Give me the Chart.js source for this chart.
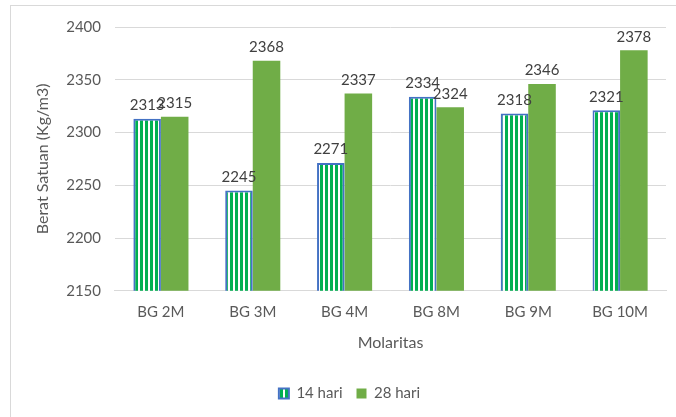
<!DOCTYPE html>
<html>
<head>
<meta charset="utf-8">
<script src="https://cdn.jsdelivr.net/npm/chart.js@4.4.1/dist/chart.umd.min.js"></script>
<style>
  html, body { margin: 0; padding: 0; background: #fff; overflow: hidden; }
  #wrap { position: relative; width: 676px; height: 417px; }
  #frame { position: absolute; left: 10px; top: 5px; width: 700px; height: 500px;
           border-left: 1px solid #d9d9d9; border-top: 1px solid #d9d9d9; }
  canvas { position: absolute; left: 0; top: 0; }
</style>
</head>
<body>
<div id="wrap">
  <div id="frame"></div>
  <canvas id="chart" width="676" height="417"></canvas>
</div>
<script>
// data
const categories = ['BG 2M', 'BG 3M', 'BG 4M', 'BG 8M', 'BG 9M', 'BG 10M'];
const hari14 = [2313, 2245, 2271, 2334, 2318, 2321];
const hari28 = [2315, 2368, 2337, 2324, 2346, 2378];
const seriesNames = ['14 hari', '28 hari'];
const yTicks = [2150, 2200, 2250, 2300, 2350, 2400];

const FONT = 'Lato, "Open Sans", sans-serif';

// striped fill for the 14 hari bars
function stripes() {
    const c = document.createElement('canvas');
    c.width = 5; c.height = 1;
    const g = c.getContext('2d');
    g.fillStyle = '#ffffff';
    g.fillRect(0, 0, 5, 1);
    g.fillStyle = '#00b050';
    g.fillRect(0, 0, 3, 1);
    return g.createPattern(c, 'repeat');
}

// values above each bar
const barLabels = {
    id: 'barLabels',
    afterDatasetsDraw(chart) {
        const ctx = chart.ctx;
        ctx.save();
        ctx.font = '15px ' + FONT;
        ctx.fillStyle = '#404040';
        ctx.textAlign = 'center';
        ctx.textBaseline = 'bottom';
        chart.data.datasets.forEach((ds, i) => {
            chart.getDatasetMeta(i).data.forEach((bar, j) => {
                ctx.fillText(ds.data[j], bar.x, bar.y - 6);
            });
        });
        ctx.restore();
    }
};

const ctx = document.getElementById('chart').getContext('2d');
new Chart(ctx, {
    type: 'bar',
    data: {
        labels: categories,
        datasets: [
            {
                label: seriesNames[0],
                data: hari14,
                backgroundColor: stripes(),
                borderColor: '#4472c4',
                borderWidth: 2
            },
            {
                label: seriesNames[1],
                data: hari28,
                backgroundColor: '#70ad47',
                borderWidth: 0
            }
        ]
    },
    options: {
        responsive: false,
        animation: false,
        categoryPercentage: 0.6,
        barPercentage: 1.0,
        layout: { padding: { left: 33, right: 10, top: 27, bottom: 6 } },
        plugins: {
            legend: {
                position: 'bottom',
                labels: {
                    boxWidth: 10, boxHeight: 10,
                    color: '#595959',
                    font: { family: FONT, size: 15 },
                    padding: 14
                }
            },
            tooltip: { enabled: false }
        },
        scales: {
            x: {
                grid: { display: false, drawTicks: false },
                border: { display: true, color: '#d9d9d9', width: 1 },
                ticks: { color: '#595959', font: { family: FONT, size: 15 }, padding: 12 },
                title: { display: true, text: 'Molaritas', color: '#595959',
                         font: { family: FONT, size: 16 }, padding: { top: 0, bottom: 20 } }
            },
            y: {
                min: yTicks[0],
                max: yTicks[yTicks.length - 1],
                afterBuildTicks: axis => { axis.ticks = yTicks.map(v => ({ value: v })); },
                grid: { color: '#d9d9d9', drawTicks: false },
                border: { display: false },
                ticks: { color: '#595959', font: { family: FONT, size: 15 }, padding: 14,
                         callback: v => String(v) },
                title: { display: true, text: 'Berat Satuan (Kg/m3)', color: '#595959',
                         font: { family: FONT, size: 16 }, padding: { top: 0, bottom: 0 } }
            }
        }
    },
    plugins: [barLabels]
});
</script>
</body>
</html>
